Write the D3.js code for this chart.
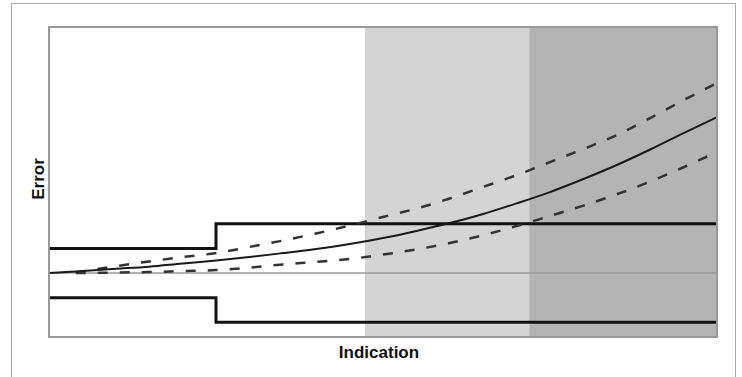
<!DOCTYPE html>
<html lang="en">
    <head>
        <meta charset="utf-8">
        <style type="text/css">
            body { margin: 0; background: #fff; }
            .frame { fill: none; stroke: #aaa; stroke-width: 1px; }
            .plot-border { fill: none; stroke: #999; stroke-width: 2px; }
            .zero { stroke: #9a9a9a; stroke-width: 1.5px; }
            .tol { fill: none; stroke: #111; stroke-width: 3px; }
            .mean { fill: none; stroke: #1a1a1a; stroke-width: 2px; }
            .band { fill: none; stroke: #333; stroke-width: 2.5px; stroke-dasharray: 10,12; }
            .label { font-family: "Liberation Sans", Arial, sans-serif; font-weight: bold; font-size: 17px; fill: #111; }
        </style>
    </head>
    <body>
        <svg width="742" height="377"></svg>

        <script src="https://d3js.org/d3.v7.min.js"></script>
        <script>
            // indication grid (0..100) and error values (units of the inner tolerance)
            var indication = [0, 4, 10, 15, 20, 25, 30, 35, 40, 45, 50, 55, 60, 65, 70, 75, 80, 85, 90, 95, 100];
            var meanError  = [0, 0.06, 0.17, 0.26, 0.39, 0.51, 0.65, 0.81, 0.98, 1.18, 1.42, 1.71, 2.03, 2.40, 2.83, 3.29, 3.82, 4.39, 5.02, 5.69, 6.34];
            var upperError = [null, 0.02, 0.28, 0.47, 0.65, 0.81, 1.06, 1.32, 1.61, 1.93, 2.28, 2.62, 3.03, 3.50, 3.98, 4.51, 5.04, 5.61, 6.30, 7.03, 7.72];
            var lowerError = [null, 0.0, 0.02, 0.04, 0.08, 0.12, 0.22, 0.35, 0.45, 0.57, 0.75, 0.96, 1.22, 1.54, 1.91, 2.32, 2.74, 3.20, 3.72, 4.30, 4.92];

            // tolerance limits: step at indication 25
            var tolX     = [0, 25, 25, 100];
            var tolUpper = [1, 1, 2, 2];
            var tolLower = [-1, -1, -2, -2];

            // shaded ranges of indication
            var zones = [
                {from: 47.3, to: 71.9, color: "#d4d4d4"},
                {from: 71.9, to: 100, color: "#b4b4b4"}
            ];

            var svg = d3.select("svg");
            var margin = {left: 49, right: 25, top: 27, bottom: 40},
                width = 742 - margin.left - margin.right,
                height = 377 - margin.top - margin.bottom;

            svg.append("rect").attr("class", "frame")
                .attr("x", 11.5).attr("y", 3.5)
                .attr("width", 724).attr("height", 390);

            var x = d3.scaleLinear().domain([0, 100]).range([margin.left, margin.left + width]);
            var y = d3.scaleLinear().domain([-2.6, 10]).range([margin.top + height, margin.top]);

            var g = svg.append("g");

            g.selectAll(".zone")
                .data(zones)
                .enter()
                .append("rect")
                .attr("class", "zone")
                .attr("x", function (d) {return x(d.from);})
                .attr("width", function (d) {return x(d.to) - x(d.from);})
                .attr("y", y.range()[1])
                .attr("height", y.range()[0] - y.range()[1])
                .attr("fill", function (d) {return d.color;});

            g.append("line").attr("class", "zero")
                .attr("x1", x(0)).attr("x2", x(100))
                .attr("y1", y(0)).attr("y2", y(0));

            var line = d3.line()
                .defined(function (d) {return d[1] !== null;})
                .x(function (d) {return x(d[0]);})
                .y(function (d) {return y(d[1]);})
                .curve(d3.curveMonotoneX);

            var tolLine = d3.line()
                .x(function (d) {return x(d[0]);})
                .y(function (d) {return y(d[1]);});

            g.append("path").attr("class", "tol")
                .attr("d", tolLine(d3.zip(tolX, tolUpper)));
            g.append("path").attr("class", "tol")
                .attr("d", tolLine(d3.zip(tolX, tolLower)));

            g.append("path").attr("class", "band")
                .attr("d", line(d3.zip(indication, upperError)));
            g.append("path").attr("class", "band")
                .attr("d", line(d3.zip(indication, lowerError)));
            g.append("path").attr("class", "mean")
                .attr("d", line(d3.zip(indication, meanError)));

            svg.append("rect").attr("class", "plot-border")
                .attr("x", margin.left).attr("y", margin.top)
                .attr("width", width).attr("height", height);

            svg.append("text").attr("class", "label")
                .attr("x", (x(0) + x(100)) / 2 - 4)
                .attr("y", 358)
                .attr("text-anchor", "middle")
                .text("Indication");

            svg.append("text").attr("class", "label")
                .attr("transform", "translate(44," + 179 + ") rotate(-90)")
                .attr("text-anchor", "middle")
                .text("Error");
        </script>
    </body>
</html>
